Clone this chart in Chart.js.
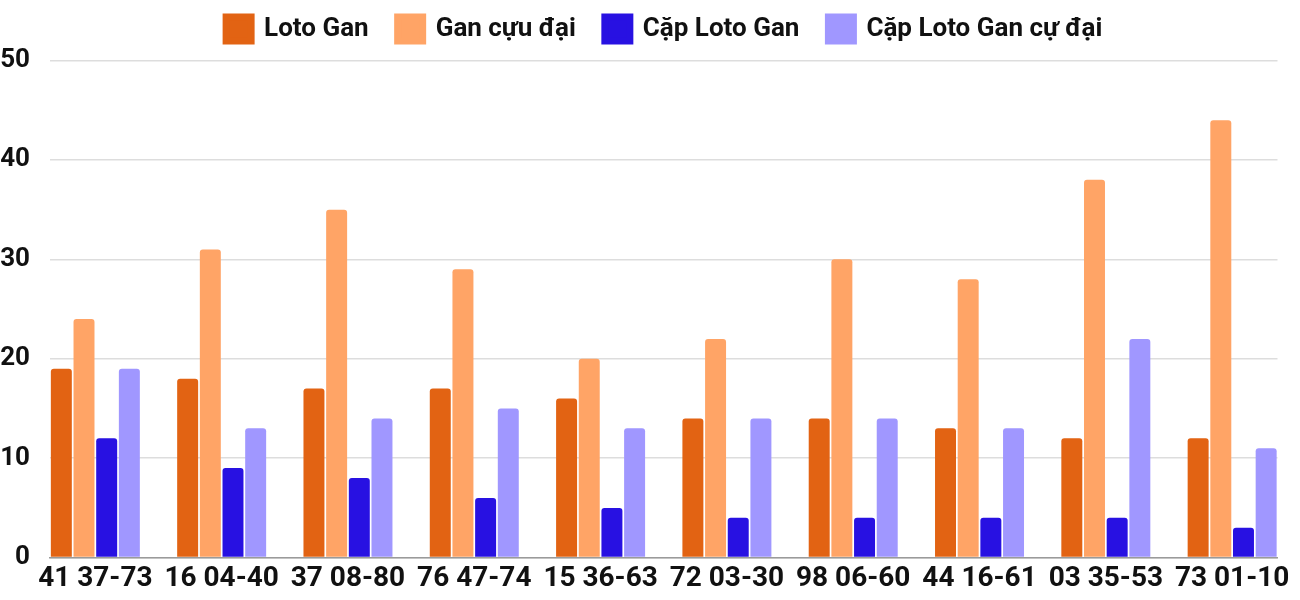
<!DOCTYPE html>
<html>
<head>
<meta charset="utf-8">
<script src="https://cdn.jsdelivr.net/npm/chart.js@4.4.1/dist/chart.umd.min.js"></script>
<style>
html,body{margin:0;padding:0;background:#fff;}
#wrap{width:1300px;height:600px;}
</style>
</head>
<body>
<div id="wrap"><canvas id="c" width="1300" height="600"></canvas></div>
<script>
const categories = ["41 37-73","16 04-40","37 08-80","76 47-74","15 36-63","72 03-30","98 06-60","44 16-61","03 35-53","73 01-10"];
const seriesNames = ["Loto Gan","Gan cựu đại","Cặp Loto Gan","Cặp Loto Gan cự đại"];
const lotoGan = [19,18,17,17,16,14,14,13,12,12];
const ganCucDai = [24,31,35,29,20,22,30,28,38,44];
const capLotoGan = [12,9,8,6,5,4,4,4,4,3];
const capCucDai = [19,13,14,15,13,14,14,13,22,11];
const yTicks = [0,10,20,30,40,50];
const colors = ["#E26313","#FFA466","#2811E2","#A097FF"];

const series = [lotoGan, ganCucDai, capLotoGan, capCucDai];
const FONT = "Roboto";

const legendShift = {
  id: 'legendShift',
  afterLayout(chart) {
    const l = chart.legend;
    if (!l) return;
    l.left += 23.25; l.right += 23.25;
    l.top -= 13; l.bottom -= 13;
  }
};

const chart = new Chart(document.getElementById('c'), {
  type: 'bar',
  data: {
    datasets: series.map((vals, k) => ({
      label: seriesNames[k],
      data: vals.map((v, i) => ({x: i, y: v})),
      backgroundColor: colors[k],
      borderWidth: 0,
      borderRadius: {topLeft: 3, topRight: 3, bottomLeft: 0, bottomRight: 0},
      borderSkipped: false,
      barPercentage: 0.925,
      categoryPercentage: 0.718
    }))
  },
  plugins: [legendShift],
  options: {
    responsive: false,
    animation: false,
    devicePixelRatio: 1,
    layout: {padding: {left: 0, right: 18, top: 0, bottom: 0}},
    plugins: {
      legend: {
        position: 'top',
        maxHeight: 60.5,
        labels: {
          boxWidth: 25,
          boxHeight: 24,
          padding: 29,
          color: '#111',
          font: {family: FONT, size: 26, weight: 'bold'},
          generateLabels: (chart) => {
            const items = Chart.defaults.plugins.legend.labels.generateLabels(chart);
            items.forEach(it => { it.lineWidth = 7; it.strokeStyle = it.fillStyle; });
            return items;
          }
        }
      },
      tooltip: {enabled: false}
    },
    scales: {
      x: {
        type: 'linear',
        min: -0.359,
        max: 9.359,
        offset: false,
        grid: {display: false, drawTicks: false},
        border: {display: true, color: '#9a9a9a', width: 1.5},
        ticks: {
          stepSize: 1,
          includeBounds: false,
          autoSkip: false,
          maxRotation: 0,
          minRotation: 0,
          padding: 10,
          color: '#111',
          font: {family: FONT, size: 28, weight: 'bold', lineHeight: 0.8},
          callback: (v) => Number.isInteger(v) && categories[v] !== undefined ? categories[v] : ''
        }
      },
      y: {
        min: 0,
        max: 50,
        afterFit: (s) => { s.width = 50; },
        grid: {color: '#dddddd', lineWidth: 1.5, drawTicks: false},
        border: {display: false},
        afterBuildTicks: (s) => { s.ticks = yTicks.map(v => ({value: v})); },
        ticks: {
          stepSize: 10,
          padding: 20,
          color: '#111',
          font: {family: FONT, size: 26, weight: 'bold'}
        }
      }
    }
  }
});
</script>
</body>
</html>
